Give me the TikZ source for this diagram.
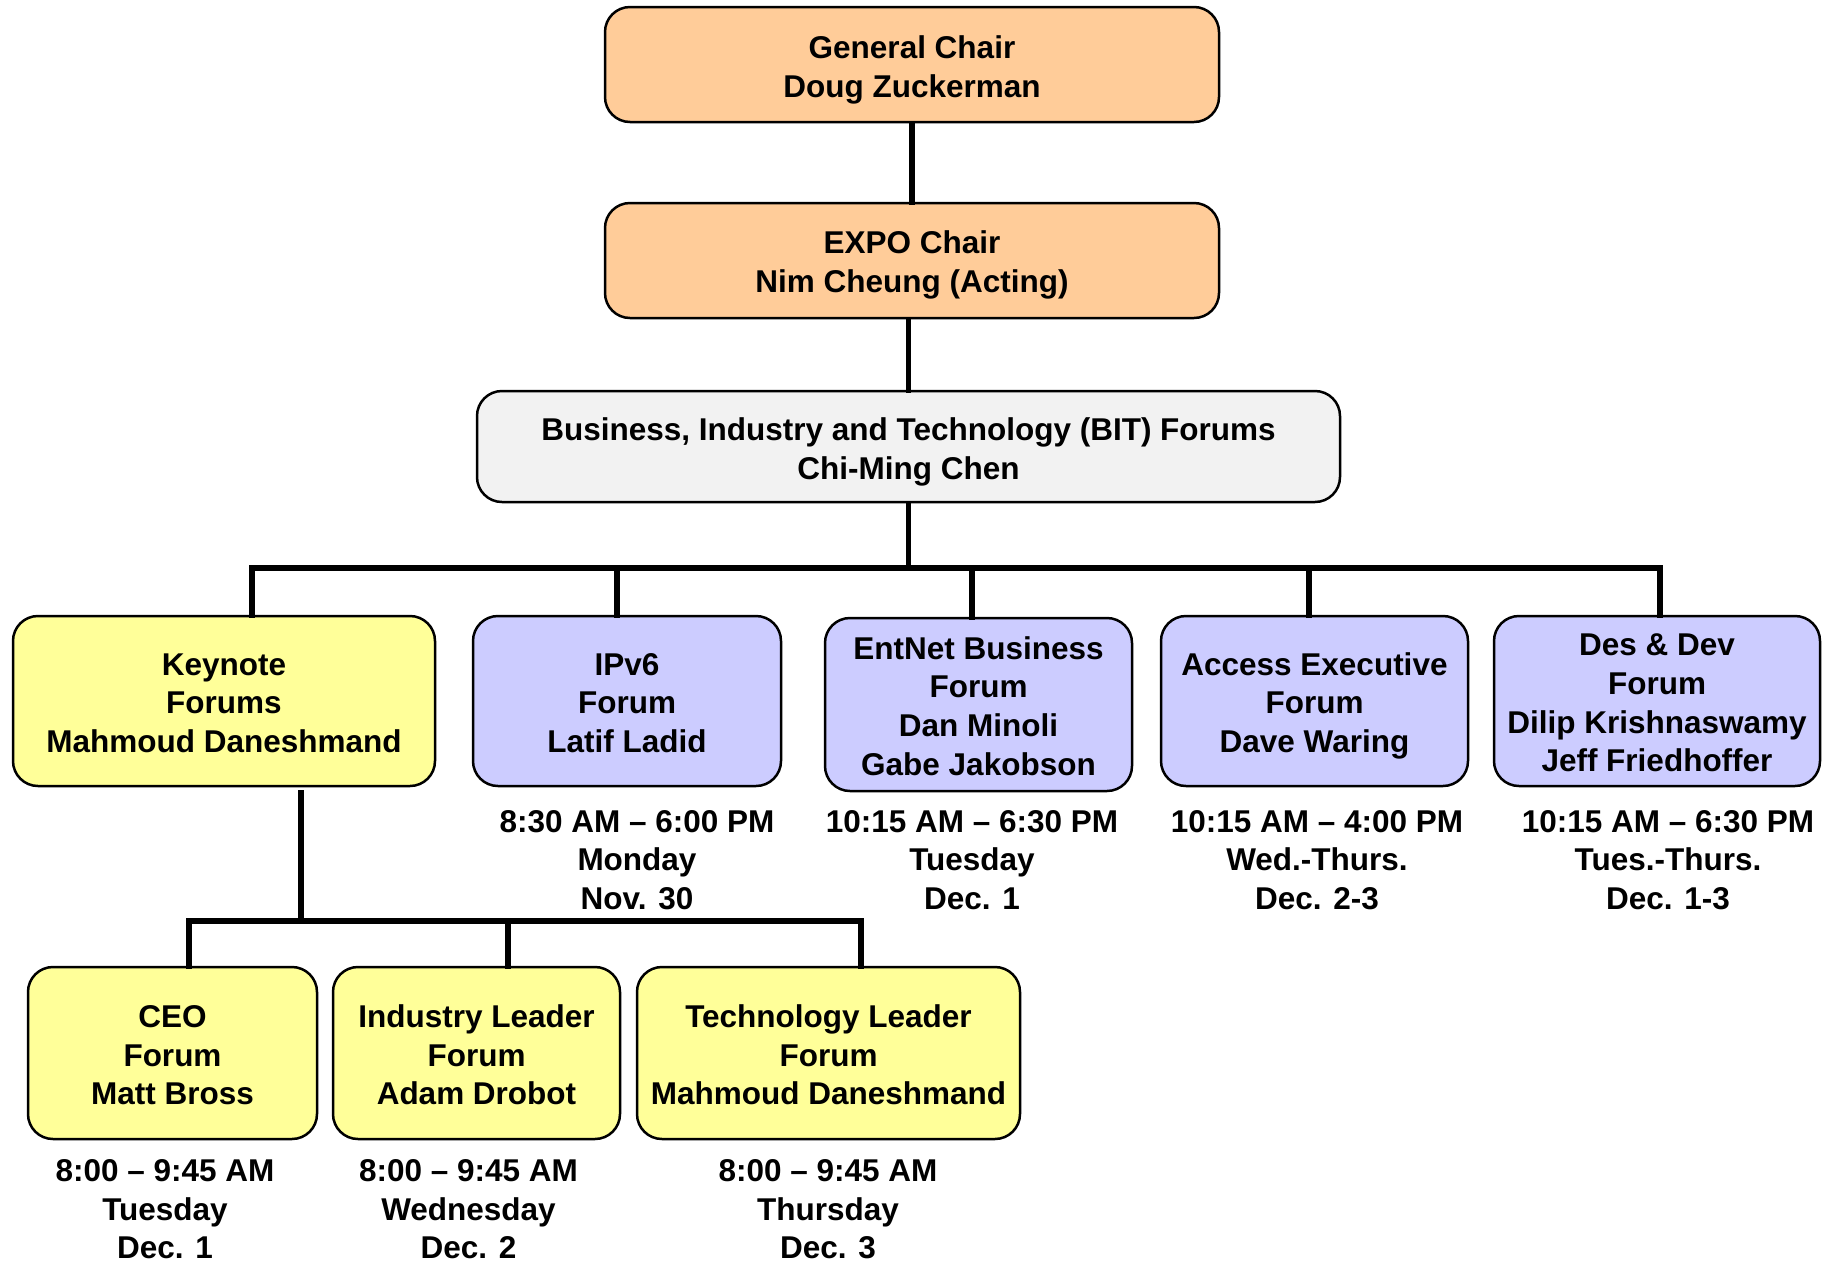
\documentclass[tikz,border=0pt]{standalone}
\usepackage{fontspec}
\setmainfont{Liberation Sans}
\definecolor{peach}{RGB}{255,204,153}
\definecolor{lemon}{RGB}{255,255,153}
\definecolor{lav}{RGB}{204,204,255}
\definecolor{pale}{RGB}{242,242,242}
\newcommand{\chartfont}{\fontsize{31.5}{38.6}\selectfont\bfseries}
\newcommand{\lowered}[2]{\raisebox{-#1}[\height][\depth]{\begin{tabular}{@{}c@{}}#2\end{tabular}}}
\begin{document}
\begin{tikzpicture}[x=1pt,y=-1pt,
  box/.style={draw=black, line width=2.5pt, rounded corners=25pt, inner sep=0pt, align=center, font=\chartfont},
  orangebox/.style={box, fill=peach},
  yellowbox/.style={box, fill=lemon},
  bluebox/.style={box, fill=lav},
  graybox/.style={box, fill=pale},
  timetext/.style={align=center, inner sep=0pt, font=\chartfont},
  conn/.style={line width=5.5pt, line cap=rect, line join=miter}]
\useasboundingbox (0,0) rectangle (1832,1262);

\node[orangebox, minimum width=614pt, minimum height=115pt] (gen) at (912,64.5) {\lowered{5.5pt}{General Chair\\Doug Zuckerman}};
\node[orangebox, minimum width=614pt, minimum height=115pt] (expo) at (912,260.5) {\lowered{5pt}{EXPO Chair\\Nim Cheung (Acting)}};
\node[graybox, minimum width=863pt, minimum height=111pt] (bit) at (908.5,446.5) {\lowered{5.5pt}{Business, Industry and Technology (BIT) Forums\\Chi-Ming Chen}};

\node[yellowbox, minimum width=422pt, minimum height=170pt] (keynote) at (224,701) {\lowered{5pt}{Keynote\\Forums\\Mahmoud Daneshmand}};
\node[bluebox, minimum width=308pt, minimum height=170pt] (ipv6) at (627,701) {\lowered{5pt}{IPv6\\Forum\\Latif Ladid}};
\node[bluebox, minimum width=307pt, minimum height=173pt] (entnet) at (978.5,704.5) {\lowered{5pt}{EntNet Business\\Forum\\Dan Minoli\\Gabe Jakobson}};
\node[bluebox, minimum width=307pt, minimum height=170pt] (access) at (1314.5,701) {\lowered{5pt}{Access Executive\\Forum\\Dave Waring}};
\node[bluebox, minimum width=326pt, minimum height=170pt] (desdev) at (1657,701) {\lowered{5pt}{Des \& Dev\\Forum\\Dilip Krishnaswamy\\Jeff Friedhoffer}};

\node[yellowbox, minimum width=289pt, minimum height=172pt] (ceo) at (172.5,1053) {\lowered{5.5pt}{CEO\\Forum\\Matt Bross}};
\node[yellowbox, minimum width=287pt, minimum height=172pt] (indus) at (476.5,1053) {\lowered{5.5pt}{Industry Leader\\Forum\\Adam Drobot}};
\node[yellowbox, minimum width=383pt, minimum height=172pt] (tech) at (828.5,1053) {\lowered{5.5pt}{Technology Leader\\Forum\\Mahmoud Daneshmand}};

\node[timetext] (t-ipv6) at (637,860) {8:30 AM – 6:00 PM\\Monday\\Nov. 30};
\node[timetext] (t-entnet) at (972,860) {10:15 AM – 6:30 PM\\Tuesday\\Dec. 1};
\node[timetext] (t-access) at (1317,860) {10:15 AM – 4:00 PM\\Wed.-Thurs.\\Dec. 2-3};
\node[timetext] (t-desdev) at (1668,860) {10:15 AM – 6:30 PM\\Tues.-Thurs.\\Dec. 1-3};
\node[timetext] (t-ceo) at (165,1209.5) {8:00 – 9:45 AM\\Tuesday\\Dec. 1};
\node[timetext] (t-indus) at (468.5,1209.5) {8:00 – 9:45 AM\\Wednesday\\Dec. 2};
\node[timetext] (t-tech) at (828,1209.5) {8:00 – 9:45 AM\\Thursday\\Dec. 3};

% connectors
\draw[conn] (gen) -- (expo);
\draw[conn] (expo.south -| bit.north) -- (bit.north);
\coordinate (bar) at (908.5,568);
\coordinate (d1) at (252,568);
\coordinate (d2) at (617,568);
\coordinate (d3) at (972,568);
\coordinate (d4) at (1309,568);
\coordinate (d5) at (1660,568);
\draw[conn] (bit.south) -- (bar);
\draw[conn] (d1 |- keynote.north) -- (d1) -- (d5) -- (d5 |- desdev.north);
\draw[conn] (d2) -- (d2 |- ipv6.north);
\draw[conn] (d3) -- (d3 |- entnet.north);
\draw[conn] (d4) -- (d4 |- access.north);

\coordinate (k0) at (301,921);
\coordinate (e1) at (189,921);
\coordinate (e2) at (508,921);
\coordinate (e3) at (861,921);
\draw[conn] ([yshift=-5pt]k0 |- keynote.south) -- (k0);
\draw[conn] (e1 |- ceo.north) -- (e1) -- (e3) -- (e3 |- tech.north);
\draw[conn] (e2) -- (e2 |- indus.north);
\end{tikzpicture}
\end{document}
